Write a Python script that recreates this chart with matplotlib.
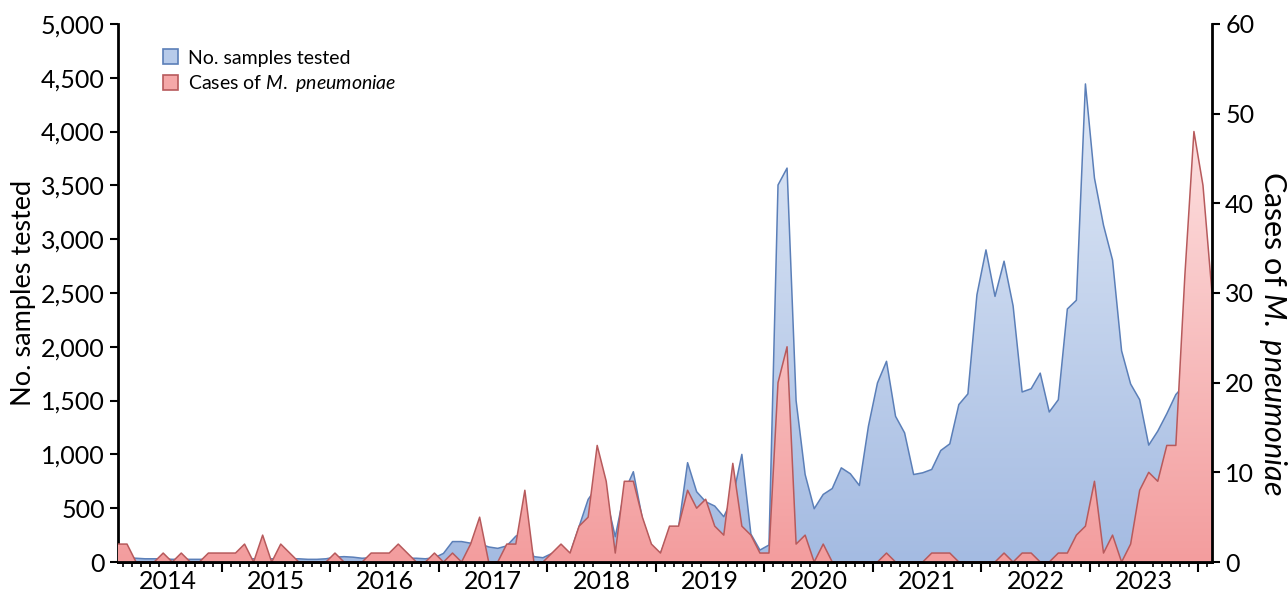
import numpy as np
import matplotlib
matplotlib.use('Agg')
import matplotlib.pyplot as plt
from matplotlib.patches import Polygon, Patch
from matplotlib.colors import LinearSegmentedColormap
from matplotlib.ticker import StrMethodFormatter

plt.rcParams['font.family'] = ['Lato', 'DejaVu Sans']
plt.rcParams['mathtext.fontset'] = 'custom'
plt.rcParams['mathtext.rm'] = 'Lato'
plt.rcParams['mathtext.it'] = 'Lato:italic'

# monthly series, Jan 2014 .. Feb 2024
years = [2014, 2015, 2016, 2017, 2018, 2019, 2020, 2021, 2022, 2023]
samples = [
    40, 40, 35, 30, 30, 30, 25, 25, 25, 25, 25, 25,
    30, 30, 30, 30, 30, 30, 30, 30, 30, 25, 25, 30,
    45, 50, 45, 35, 40, 40, 40, 40, 35, 35, 30, 40,
    80, 190, 190, 175, 170, 140, 127, 150, 240, 280, 50, 40,
    80, 110, 80, 330, 582, 700, 600, 235, 650, 839, 400, 150,
    80, 300, 320, 923, 653, 560, 520, 421, 600, 1000, 260, 111,
    158, 3503, 3660, 1500, 813, 495, 628, 683, 875, 820, 711, 1262,
    1664, 1865, 1354, 1200, 813, 829, 860, 1036, 1098, 1463, 1562, 2483,
    2900, 2468, 2795, 2380, 1580, 1610, 1755, 1394, 1508, 2351, 2432, 4442,
    3567, 3129, 2805, 1962, 1654, 1508, 1086, 1216, 1378, 1556, 1650, 1700,
    1700, 1600,
]
cases = [
    2, 2, 0, 0, 0, 1, 0, 1, 0, 0, 1, 1,
    1, 1, 2, 0, 3, 0, 2, 1, 0, 0, 0, 0,
    1, 0, 0, 0, 1, 1, 1, 2, 1, 0, 0, 1,
    0, 1, 0, 2, 5, 0, 0, 2, 2, 8, 0, 0,
    1, 2, 1, 4, 5, 13, 9, 1, 9, 9, 5, 2,
    1, 4, 4, 8, 6, 7, 4, 3, 11, 4, 3, 1,
    1, 20, 24, 2, 3, 0, 2, 0, 0, 0, 0, 0,
    0, 1, 0, 0, 0, 0, 1, 1, 1, 0, 0, 0,
    0, 0, 1, 0, 1, 1, 0, 0, 1, 1, 3, 4,
    9, 1, 3, 0, 2, 8, 10, 9, 13, 13, 32, 48,
    42, 30,
]


def gradient_area(ax, x, y, top, c_bottom, c_top, edge, z):
  """Area under a line, filled with a vertical colour gradient."""
  verts = [(x[0], 0)] + list(zip(x, y)) + [(x[-1], 0)]
  patch = Polygon(verts, closed=True, facecolor='none', edgecolor='none')
  ax.add_patch(patch)
  cmap = LinearSegmentedColormap.from_list('g', [c_bottom, c_top])
  grad = np.linspace(0, 1, 256).reshape(-1, 1)
  im = ax.imshow(grad, aspect='auto', cmap=cmap, origin='lower',
                 extent=[x[0], x[-1], 0, top], zorder=z)
  im.set_clip_path(patch)
  ax.plot(x, y, color=edge, lw=1.1, zorder=z + 0.1)


x = np.arange(len(samples))
fig = plt.figure(figsize=(12.88, 5.97), dpi=100)
ax = fig.add_axes([0.0916, 0.0586, 0.8494, 0.9014])
ax2 = ax.twinx()

blue_edge = '#5b7fb8'
red_edge = '#b75a5c'
gradient_area(ax, x, samples, 5000, '#a4bbe2', '#e8eff9', blue_edge, 1)
gradient_area(ax2, x, cases, 60, '#f39d9e', '#fff0f0', red_edge, 2)

ax.set_xlim(0, len(samples) - 1)
ax.set_ylim(0, 5000)
ax2.set_ylim(0, 60)
ax.set_yticks(np.arange(0, 5001, 500))
ax.yaxis.set_major_formatter(StrMethodFormatter('{x:,.0f}'))
ax2.set_yticks(np.arange(0, 61, 10))

# year labels in the middle of each year, monthly minor ticks
ax.set_xticks([5.5 + 12 * k for k in range(len(years))])
ax.set_xticklabels([str(yr) for yr in years])
ax.set_xticks(np.arange(0.5, len(samples) - 1, 1), minor=True)
ax.tick_params(axis='x', which='major', length=0, pad=6, labelsize=18)
ax.tick_params(axis='x', which='minor', length=3.5, width=1.2)
sec = ax.secondary_xaxis('bottom')
sec.set_xticks([11.5 + 12 * k for k in range(len(years))])
sec.set_xticklabels([])
sec.tick_params(length=7, width=1.5)
sec.spines['bottom'].set_visible(False)

ax.tick_params(axis='y', length=6, width=1.5, labelsize=18)
ax2.tick_params(axis='y', length=6, width=1.5, labelsize=18)

for a in (ax, ax2):
  a.spines['top'].set_visible(False)
  for s in ('left', 'right', 'bottom'):
    a.spines[s].set_linewidth(2)
ax.spines['right'].set_visible(False)
ax2.spines['left'].set_visible(False)

ax.set_ylabel('No. samples tested', fontsize=19.5)
ax.yaxis.set_label_coords(-0.075, 0.5)
ax2.set_ylabel('Cases of $\\mathit{M.\\ pneumoniae}$', fontsize=22,
               rotation=270, ha='center', va='center')
ax2.yaxis.set_label_coords(1.056, 0.425)

handles = [Patch(facecolor='#b7cbea', edgecolor=blue_edge, lw=1.2),
           Patch(facecolor='#f5a8a8', edgecolor=red_edge, lw=1.2)]
ax2.legend(handles, ['No. samples tested', 'Cases of $\\mathit{M.\\ pneumoniae}$'],
           loc='upper left', bbox_to_anchor=(0.025, 0.985), frameon=False,
           fontsize=14, handlelength=0.8, handleheight=0.8,
           handletextpad=0.5, labelspacing=0.35)

fig.savefig('out.png', dpi=100)
